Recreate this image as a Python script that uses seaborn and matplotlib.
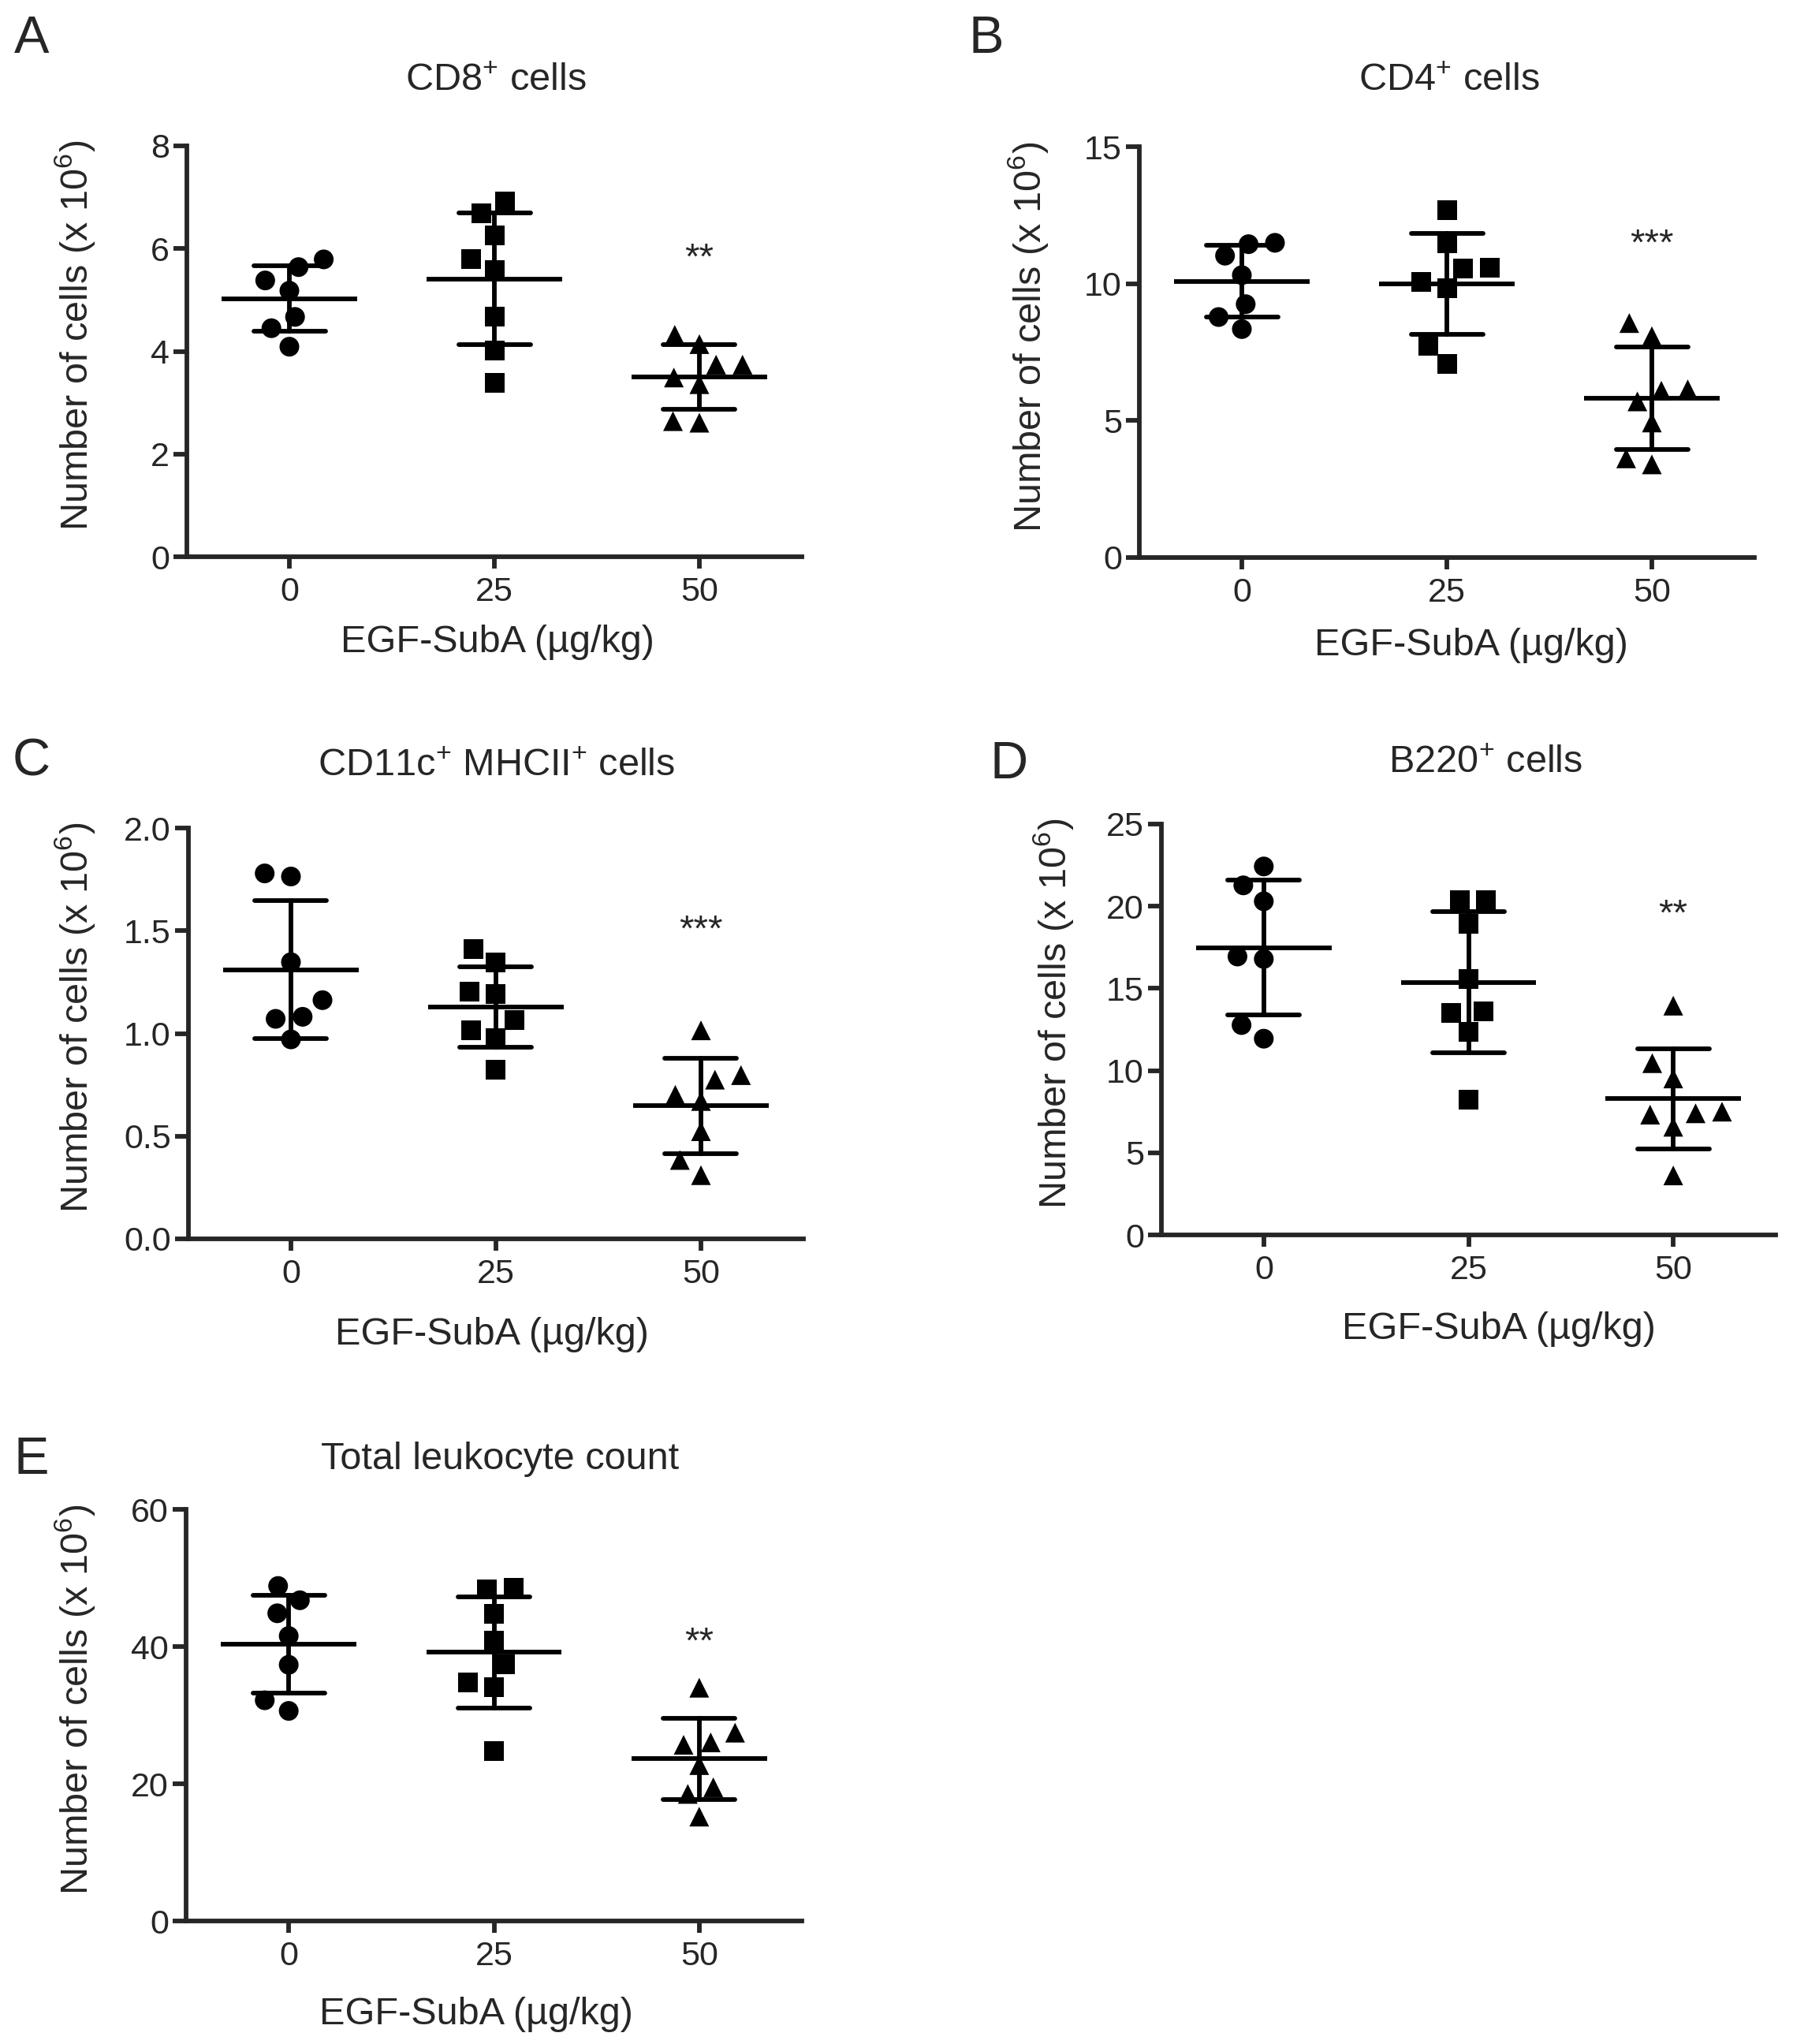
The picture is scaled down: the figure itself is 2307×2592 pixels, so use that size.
import numpy as np
import pandas as pd
import matplotlib
matplotlib.use('Agg')
import matplotlib.pyplot as plt
import seaborn as sns

# Dose groups (EGF-SubA, ug/kg)
doses = ['0', '25', '50']
markers = ['o', 's', '^']

# Cell counts (x 10^6), one list per dose group
cd8_0 = [5.64, 5.79, 5.38, 5.18, 4.67, 4.45, 4.09]
cd8_25 = [6.92, 6.68, 6.25, 5.80, 5.58, 4.67, 4.02, 3.38]
cd8_50 = [4.32, 4.14, 3.74, 3.74, 3.49, 3.36, 2.61, 2.64]

cd4_0 = [11.44, 11.49, 11.02, 10.31, 9.25, 8.78, 8.34]
cd4_25 = [12.68, 11.46, 10.59, 10.55, 10.06, 9.83, 7.73, 7.07]
cd4_50 = [8.56, 8.08, 6.09, 6.14, 5.70, 4.93, 3.62, 3.40]

dc_0 = [1.779, 1.764, 1.347, 1.162, 1.081, 1.071, 0.971]
dc_25 = [1.409, 1.347, 1.192, 1.204, 1.066, 1.015, 0.978, 0.823]
dc_50 = [1.015, 0.775, 0.797, 0.701, 0.671, 0.524, 0.384, 0.310]

b220_0 = [22.42, 21.27, 20.30, 16.94, 16.79, 12.77, 11.94]
b220_25 = [20.35, 20.35, 18.91, 15.55, 13.51, 13.62, 12.36, 8.21]
b220_50 = [13.95, 10.45, 9.52, 7.50, 7.32, 7.40, 6.58, 3.62]

total_0 = [48.83, 46.75, 44.85, 41.54, 37.34, 32.17, 30.62]
total_25 = [48.30, 48.52, 44.76, 40.87, 37.38, 34.82, 34.03, 24.79]
total_50 = [34.0, 27.45, 25.68, 26.03, 22.72, 19.49, 18.52, 15.21]

titles = [r'CD8$^{+}$ cells', r'CD4$^{+}$ cells', r'CD11c$^{+}$ MHCII$^{+}$ cells',
          r'B220$^{+}$ cells', 'Total leukocyte count']
panel_letters = ['A', 'B', 'C', 'D', 'E']
yticks = [[0, 2, 4, 6, 8], [0, 5, 10, 15], [0.0, 0.5, 1.0, 1.5, 2.0],
          [0, 5, 10, 15, 20, 25], [0, 20, 40, 60]]
stars = ['**', '***', '***', '**', '**']
star_y = [6.0, 11.8, 1.55, 20.1, 42.1]
panel_data = [[cd8_0, cd8_25, cd8_50], [cd4_0, cd4_25, cd4_50], [dc_0, dc_25, dc_50],
              [b220_0, b220_25, b220_50], [total_0, total_25, total_50]]

sns.set_style('ticks')
plt.rcParams['font.family'] = ['Liberation Sans', 'DejaVu Sans']
plt.rcParams['mathtext.fontset'] = 'custom'
plt.rcParams['mathtext.rm'] = 'Liberation Sans'
plt.rcParams['mathtext.it'] = 'Liberation Sans:italic'
plt.rcParams['mathtext.bf'] = 'Liberation Sans:bold'

W, H = 2307, 2592
fig = plt.figure(figsize=(W / 100, H / 100), dpi=100)

# layout in pixels: axes box (left, top, right, bottom)
boxes = [(237, 185, 1017, 706), (1445, 186, 2225, 707), (239, 1050, 1019, 1571),
         (1473, 1045, 2252, 1566), (236, 1914, 1017, 2436)]
letter_pos = [(40, 67), (1251, 67), (40, 984), (1280, 987), (40, 1869)]
title_pos = [(629, 115), (1838, 115), (630, 984), (1884, 980), (634, 1863)]
xlabel_pos = [(631, 827), (1866, 831), (624, 1705), (1901, 1698), (604, 2567)]
ylabel_pos = [(95, 425), (1304, 427), (95, 1290), (1336, 1285), (95, 2155)]

LW = 4.2


def fig_text(x, y, s, **kw):
    fig.text(x / W, 1 - y / H, s, **kw)


for i, groups in enumerate(panel_data):
    l, t, r, b = boxes[i]
    ax = fig.add_axes([l / W, 1 - b / H, (r - l) / W, (b - t) / H])

    df = pd.DataFrame({
        'dose': np.repeat(doses, [len(g) for g in groups]),
        'cells': np.concatenate(groups),
    })

    # individual animals
    for dose, mk in zip(doses, markers):
        sns.swarmplot(data=df[df['dose'] == dose], x='dose', y='cells', order=doses,
                      marker=mk, color='black', size=18, linewidth=5,
                      edgecolor='none', ax=ax)

    # mean +/- SD
    sns.pointplot(data=df, x='dose', y='cells', order=doses, errorbar='sd',
                  capsize=0.35, color='black', linestyle='none', marker='',
                  err_kws={'linewidth': LW}, ax=ax)
    means = df.groupby('dose')['cells'].mean().reindex(doses)
    pos = np.arange(len(doses))
    ax.hlines(means.values, pos - 0.33, pos + 0.33, color='black', linewidth=LW)

    ax.annotate(stars[i], xy=(2, star_y[i]), xytext=(0, -10), textcoords='offset points',
                ha='center', va='center', fontsize=34)

    ax.set_xlim(-0.5, 2.5)
    ax.set_ylim(yticks[i][0], yticks[i][-1])
    ax.set_yticks(yticks[i])
    ax.set_xticks(pos)
    ax.set_xticklabels(doses)
    ax.set_xlabel('')
    ax.set_ylabel('')
    sns.despine(ax=ax)
    for side in ['left', 'bottom']:
        ax.spines[side].set_linewidth(LW)
    ax.tick_params(axis='x', length=11, width=LW, pad=7, labelsize=31)
    ax.tick_params(axis='y', length=12, width=LW, pad=4, labelsize=31)

    fig_text(*letter_pos[i], panel_letters[i], ha='center', va='baseline', fontsize=48)
    fig_text(*title_pos[i], titles[i], ha='center', va='baseline', fontsize=35)
    fig_text(*xlabel_pos[i], 'EGF-SubA (µg/kg)', ha='center', va='baseline', fontsize=35)
    fig_text(*ylabel_pos[i], r'Number of cells (x 10$^{6}$)', ha='center', va='center',
             rotation=90, fontsize=35)

fig.savefig('out.png', dpi=100)
